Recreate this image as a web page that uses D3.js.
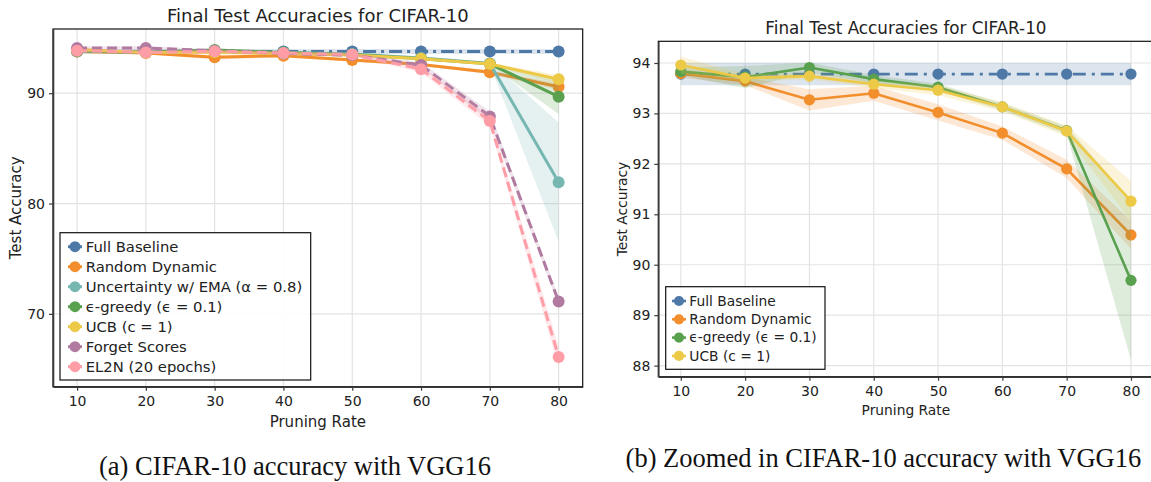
<!DOCTYPE html>
<html>
<head>
<meta charset="utf-8">
<script src="https://cdn.jsdelivr.net/npm/d3@7/dist/d3.min.js"></script>
<style>
  body { margin: 0; background: #fff; }
  svg { display: block; font-family: "DejaVu Sans", sans-serif; }
</style>
</head>
<body>
<svg id="chart" width="1151" height="482"></svg>
<script>
// ---- data ----
const pruningRates = [10, 20, 30, 40, 50, 60, 70, 80];

const fullBaseline     = [93.78, 93.78, 93.78, 93.78, 93.78, 93.78, 93.78, 93.78];
const fullBaselineStd  = [0.22, 0.22, 0.22, 0.22, 0.22, 0.22, 0.22, 0.22];
const randomDynamic    = [93.79, 93.64, 93.27, 93.40, 93.02, 92.61, 91.90, 90.59];
const randomDynamicStd = [0.08, 0.08, 0.21, 0.15, 0.16, 0.13, 0.18, 0.28];
const uncertaintyEma   = [93.80, 93.72, 93.80, 93.70, 93.55, 93.20, 92.70, 81.94];
const uncertaintyStd   = [0.10, 0.10, 0.10, 0.10, 0.10, 0.10, 0.15, 5.40];
const epsGreedy        = [93.83, 93.72, 93.91, 93.68, 93.52, 93.13, 92.66, 89.69];
const epsGreedyStd     = [0.08, 0.22, 0.10, 0.08, 0.07, 0.07, 0.08, 1.58];
const ucb              = [93.96, 93.70, 93.74, 93.58, 93.46, 93.13, 92.65, 91.26];
const ucbStd           = [0.17, 0.07, 0.06, 0.07, 0.10, 0.09, 0.11, 0.40];
const forgetScores     = [94.10, 94.10, 93.85, 93.60, 93.45, 92.55, 87.90, 71.12];
const forgetStd        = [0.15, 0.15, 0.15, 0.15, 0.15, 0.25, 0.45, 0.40];
const el2n             = [93.85, 93.70, 93.80, 93.65, 93.50, 92.18, 87.48, 66.09];
const el2nStd          = [0.15, 0.15, 0.15, 0.15, 0.15, 0.30, 0.45, 1.00];

const xTicks      = [10, 20, 30, 40, 50, 60, 70, 80];
const yTicksFull  = [70, 80, 90];
const yTicksZoom  = [88, 89, 90, 91, 92, 93, 94];

const chartTitle = "Final Test Accuracies for CIFAR-10";
const xLabel = "Pruning Rate";
const yLabel = "Test Accuracy";
const captionA = "(a) CIFAR-10 accuracy with VGG16";
const captionB = "(b) Zoomed in CIFAR-10 accuracy with VGG16";

// series table built from the arrays above
const seriesAll = [
  {name: "Full Baseline", values: fullBaseline, std: fullBaselineStd, color: "#4e79a7", dash: "dashdot"},
  {name: "Random Dynamic", values: randomDynamic, std: randomDynamicStd, color: "#f28e2b", dash: null},
  {name: "Uncertainty w/ EMA (\u03b1 = 0.8)", values: uncertaintyEma, std: uncertaintyStd, color: "#76b7b2", dash: null},
  {name: "\u03f5-greedy (\u03f5 = 0.1)", values: epsGreedy, std: epsGreedyStd, color: "#59a14f", dash: null},
  {name: "UCB (c = 1)", values: ucb, std: ucbStd, color: "#edc948", dash: null},
  {name: "Forget Scores", values: forgetScores, std: forgetStd, color: "#b07aa1", dash: "dashed"},
  {name: "EL2N (20 epochs)", values: el2n, std: el2nStd, color: "#ff9da7", dash: "dashed"}
];
const seriesZoom = seriesAll.filter(s =>
  ["Full Baseline", "Random Dynamic", "\u03f5-greedy (\u03f5 = 0.1)", "UCB (c = 1)"].includes(s.name));

const svg = d3.select("#chart");

function drawPanel(p) {
  const g = svg.append("g");
  const x = d3.scaleLinear().domain([6.5, 83.5]).range([p.left, p.right]);
  const y = d3.scaleLinear().domain(p.yDomain).range([p.bottom, p.top]);

  const clipId = "clip-" + p.id;
  g.append("clipPath").attr("id", clipId)
    .append("rect")
    .attr("x", p.left).attr("y", p.top)
    .attr("width", p.right - p.left).attr("height", p.bottom - p.top);

  // grid
  g.append("g").selectAll("line").data(p.xTicks).join("line")
    .attr("x1", d => x(d)).attr("x2", d => x(d))
    .attr("y1", p.top).attr("y2", p.bottom)
    .attr("stroke", "#e3e3e3").attr("stroke-width", 1.2);
  g.append("g").selectAll("line").data(p.yTicks).join("line")
    .attr("y1", d => y(d)).attr("y2", d => y(d))
    .attr("x1", p.left).attr("x2", p.right)
    .attr("stroke", "#e3e3e3").attr("stroke-width", 1.2);

  const plot = g.append("g").attr("clip-path", "url(#" + clipId + ")");

  const area = d3.area()
    .x((d, i) => x(pruningRates[i]))
    .y0(d => y(d[0] - d[1]))
    .y1(d => y(d[0] + d[1]));
  const line = d3.line()
    .x((d, i) => x(pruningRates[i]))
    .y(d => y(d));

  p.series.forEach(s => {
    plot.append("path")
      .datum(s.values.map((v, i) => [v, s.std[i]]))
      .attr("d", area)
      .attr("fill", s.color).attr("fill-opacity", 0.2);

    let dashArray = null;
    if (s.dash === "dashdot") dashArray = p.dashDot;
    if (s.dash === "dashed") dashArray = p.dashed;
    plot.append("path")
      .datum(s.values)
      .attr("d", line)
      .attr("fill", "none")
      .attr("stroke", s.color)
      .attr("stroke-width", p.lineWidth)
      .attr("stroke-dasharray", dashArray);

    plot.append("g").selectAll("circle").data(s.values).join("circle")
      .attr("cx", (d, i) => x(pruningRates[i]))
      .attr("cy", d => y(d))
      .attr("r", p.markerR)
      .attr("fill", s.color);
  });

  // frame
  g.append("rect")
    .attr("x", p.left).attr("y", p.top)
    .attr("width", p.right - p.left).attr("height", p.bottom - p.top)
    .attr("fill", "none").attr("stroke", "#111").attr("stroke-width", 1.2);

  // axes
  const xAxis = d3.axisBottom(x).tickValues(p.xTicks).tickFormat(d3.format("d"))
    .tickSize(4).tickSizeOuter(0).tickPadding(5);
  const yAxis = d3.axisLeft(y).tickValues(p.yTicks).tickFormat(d3.format("d"))
    .tickSize(4).tickSizeOuter(0).tickPadding(4);
  const xg = g.append("g").attr("transform", "translate(0," + p.bottom + ")").call(xAxis);
  const yg = g.append("g").attr("transform", "translate(" + p.left + ",0)").call(yAxis);
  [xg, yg].forEach(a => {
    a.select(".domain").attr("stroke", "#3a3a3a").attr("stroke-width", 1.6);
    a.selectAll(".tick line").attr("stroke", "#3a3a3a").attr("stroke-width", 1.2);
    a.selectAll(".tick text")
      .attr("fill", "#222")
      .style("font-family", "DejaVu Sans")
      .style("font-size", p.tickFont + "px");
  });

  // title and labels
  g.append("text")
    .attr("x", (p.left + p.right) / 2).attr("y", p.titleY)
    .attr("text-anchor", "middle").attr("fill", "#222")
    .style("font-size", p.titleFont + "px")
    .text(chartTitle);
  g.append("text")
    .attr("x", (p.left + p.right) / 2).attr("y", p.xLabelY)
    .attr("text-anchor", "middle").attr("fill", "#222")
    .style("font-size", p.labelFont + "px")
    .text(xLabel);
  g.append("text")
    .attr("transform", "translate(" + p.yLabelX + "," + ((p.top + p.bottom) / 2) + ") rotate(-90)")
    .attr("text-anchor", "middle").attr("fill", "#222")
    .style("font-size", p.labelFont + "px")
    .text(yLabel);

  // legend
  const lg = p.legend;
  const leg = g.append("g");
  leg.append("rect")
    .attr("x", lg.x).attr("y", lg.y).attr("width", lg.w).attr("height", lg.h)
    .attr("fill", "#fff").attr("fill-opacity", 0.9)
    .attr("stroke", "#111").attr("stroke-width", 1.2);
  p.series.forEach((s, i) => {
    const cy = lg.y + lg.firstRow + i * lg.rowH;
    const cx = lg.x + lg.handleX;
    leg.append("line")
      .attr("x1", cx - 7).attr("x2", cx + 7).attr("y1", cy).attr("y2", cy)
      .attr("stroke", s.color).attr("stroke-width", p.lineWidth);
    leg.append("circle").attr("cx", cx).attr("cy", cy).attr("r", p.markerR - 0.5).attr("fill", s.color);
    leg.append("text")
      .attr("x", lg.x + lg.textX).attr("y", cy)
      .attr("dy", "0.35em").attr("fill", "#222")
      .style("font-size", p.legendFont + "px")
      .text(s.name);
  });

  // caption
  g.append("text")
    .attr("x", p.captionX).attr("y", p.captionY)
    .attr("text-anchor", "middle").attr("fill", "#111")
    .style("font-family", "'Liberation Serif', serif")
    .style("font-size", "26.5px")
    .text(p.caption);
}

drawPanel({
  id: "a", left: 53, right: 582.7, top: 29, bottom: 386.7,
  yDomain: [63.4, 95.82], xTicks: xTicks, yTicks: yTicksFull,
  series: seriesAll, lineWidth: 3, markerR: 6,
  dashDot: "13,5,3,5", dashed: "10,5",
  tickFont: 14, titleFont: 18, labelFont: 15, legendFont: 14.8,
  titleY: 22, xLabelY: 427, yLabelX: 21,
  legend: {x: 60, y: 232.7, w: 250.7, h: 147.3, firstRow: 14, rowH: 20, handleX: 15, textX: 25.7},
  caption: captionA, captionX: 295, captionY: 475
});

drawPanel({
  id: "b", left: 658.3, right: 1153.5, top: 41.3, bottom: 376.7,
  yDomain: [87.78, 94.43], xTicks: xTicks, yTicks: yTicksZoom,
  series: seriesZoom, lineWidth: 2.6, markerR: 5.6,
  dashDot: "13,6,3,6", dashed: "10,5",
  tickFont: 14, titleFont: 16.8, labelFont: 13.8, legendFont: 13.8,
  titleY: 34, xLabelY: 415, yLabelX: 627,
  legend: {x: 665.7, y: 286.7, w: 159.3, h: 82.6, firstRow: 14.3, rowH: 18.3, handleX: 13.3, textX: 23.6},
  caption: captionB, captionX: 883.4, captionY: 467
});
</script>
</body>
</html>
